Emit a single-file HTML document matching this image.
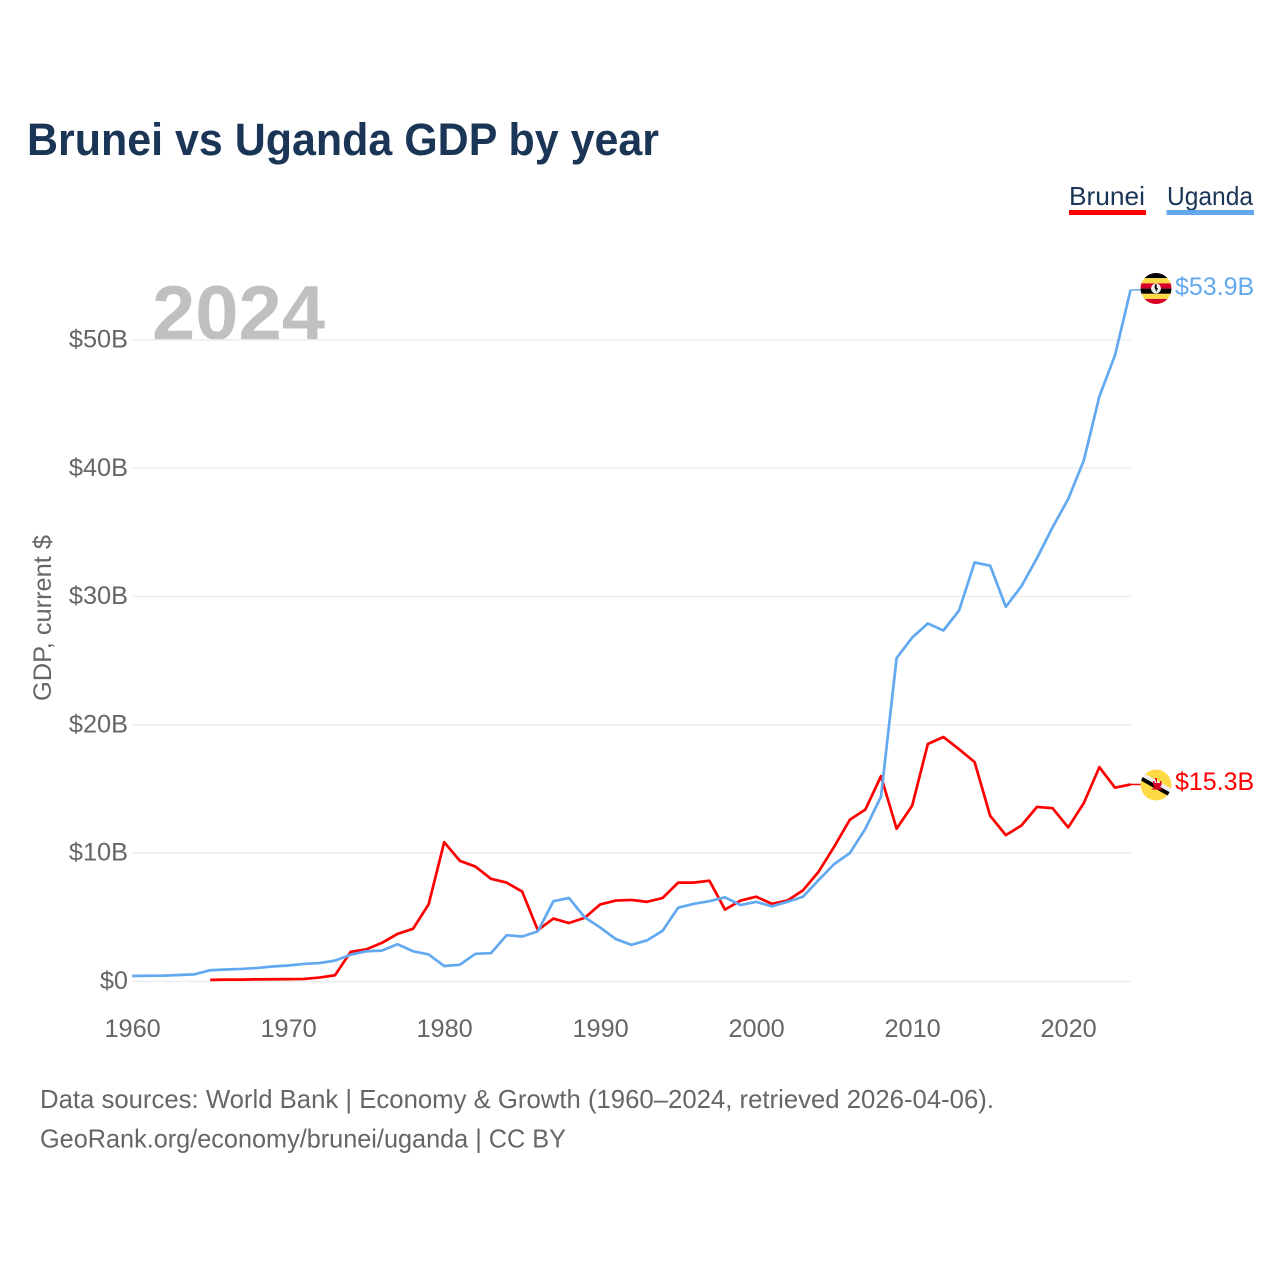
<!DOCTYPE html>
<html lang="en">
<head>
<meta charset="utf-8">
<title>Brunei vs Uganda GDP by year</title>
<style>
html,body{margin:0;padding:0;background:#fff;}
svg{display:block;font-family:"Liberation Sans",sans-serif;}
</style>
</head>
<body>
<svg id="chart" xmlns="http://www.w3.org/2000/svg" width="1280" height="1280" viewBox="0 0 1280 1280">
  <defs>
    <clipPath id="ug-clip"><circle cx="1156" cy="288.5" r="15.5"/></clipPath>
    <clipPath id="bn-clip"><circle cx="1156" cy="785" r="15.5"/></clipPath>
  </defs>
  <rect width="1280" height="1280" fill="#fff"/>
  <text x="27" y="155" font-size="45" font-weight="700" fill="#1a3555" textLength="632" lengthAdjust="spacingAndGlyphs">Brunei vs Uganda GDP by year</text>

  <g>
    <g>
      <text x="1069" y="205" font-size="26" fill="#1a3555" textLength="76" lengthAdjust="spacingAndGlyphs">Brunei</text>
      <rect x="1069" y="210" width="77" height="5" fill="#ff0000"/>
    </g>
    <g>
      <text x="1167" y="205" font-size="26" fill="#1a3555" textLength="86" lengthAdjust="spacingAndGlyphs">Uganda</text>
      <rect x="1166.500" y="210" width="87.500" height="5" fill="#62a9ef"/>
    </g>
  </g>

  <text x="152" y="339.500" font-size="77" font-weight="700" fill="#c0c0c0" textLength="173" lengthAdjust="spacingAndGlyphs">2024</text>

  <g id="grid"></g>
  <g id="yticks"></g>
  <g id="xticks"></g>
  <text transform="translate(51,618) rotate(-90)" text-anchor="middle" font-size="25" fill="#666" textLength="166" lengthAdjust="spacingAndGlyphs">GDP, current $</text>
  <g id="series"></g>

  <g clip-path="url(#ug-clip)">
    <rect x="1140" y="273" width="32" height="5.200" fill="#000"/>
    <rect x="1140" y="278.200" width="32" height="5.200" fill="#ffda44"/>
    <rect x="1140" y="283.400" width="32" height="5.200" fill="#d80027"/>
    <rect x="1140" y="288.600" width="32" height="5.200" fill="#000"/>
    <rect x="1140" y="293.800" width="32" height="5.200" fill="#ffda44"/>
    <rect x="1140" y="299" width="32" height="6" fill="#d80027"/>
    <circle cx="1156" cy="288.500" r="5" fill="#f0f0f0"/>
    <path d="M1155 284.500l2 0-.5 3 1.500 1-2 3.500-.5-3-1-1z" fill="#000"/>
  </g>
  <g clip-path="url(#bn-clip)">
    <circle cx="1156" cy="785" r="15.500" fill="#ffda44"/>
    <path d="M1140 771L1172 789L1172 794L1140 776Z" fill="#f0f0f0"/>
    <path d="M1140 775.500L1172 793.500L1172 798L1140 780Z" fill="#000"/>
    <path d="M1155 778h2v5h3v-2l1.500 0v4l-1.500 2 3 2.500h-11.500l3-2.500-1.500-2v-4l1.500 0v2h2z" fill="#d80027"/>
  </g>
  <text id="label-uganda" x="1175" y="295" font-size="25" fill="#62a9ef"></text>
  <text id="label-brunei" x="1175" y="790" font-size="25" fill="#ff0000"></text>

  <g>
    <text x="40" y="1108" font-size="26" fill="#666" textLength="954" lengthAdjust="spacingAndGlyphs">Data sources: World Bank | Economy &amp; Growth (1960–2024, retrieved 2026-04-06).</text>
    <text x="40" y="1147.500" font-size="26" fill="#666" textLength="526" lengthAdjust="spacingAndGlyphs">GeoRank.org/economy/brunei/uganda | CC BY</text>
  </g>
</svg>
<script>
const yTickValues = [0, 10, 20, 30, 40, 50];
const yTickLabels = ["$0", "$10B", "$20B", "$30B", "$40B", "$50B"];
const xTickYears = [1960, 1970, 1980, 1990, 2000, 2010, 2020];
const xTickLabels = ["1960", "1970", "1980", "1990", "2000", "2010", "2020"];
const ugandaStartYear = 1960;
const bruneiStartYear = 1965;
const ugandaValues = [0.42,0.44,0.45,0.5,0.55,0.87,0.93,0.97,1.05,1.16,1.24,1.36,1.43,1.62,2.08,2.35,2.4,2.9,2.35,2.1,1.2,1.3,2.15,2.2,3.6,3.5,3.9,6.25,6.5,5.0,4.2,3.3,2.85,3.2,3.95,5.75,6.05,6.25,6.55,5.95,6.2,5.85,6.2,6.6,7.9,9.15,10.0,11.9,14.4,25.2,26.8,27.9,27.35,28.9,32.65,32.4,29.2,30.8,33.0,35.4,37.6,40.6,45.6,48.8,53.9];
const bruneiValues = [0.12,0.14,0.14,0.16,0.17,0.18,0.19,0.3,0.48,2.3,2.5,3.0,3.7,4.1,6.0,10.85,9.4,8.95,8.0,7.7,7.0,4.0,4.9,4.55,4.95,6.0,6.3,6.35,6.2,6.5,7.7,7.7,7.85,5.6,6.3,6.6,6.05,6.3,7.1,8.55,10.5,12.6,13.4,16.0,11.9,13.7,18.5,19.05,18.1,17.1,12.9,11.4,12.15,13.6,13.5,12.0,13.9,16.7,15.1,15.35];
const ugandaLabel = "$53.9B";
const bruneiLabel = "$15.3B";

const NS = "http://www.w3.org/2000/svg";
const xScale = year => 132.2 + (year - 1960) * 15.6;
const yScale = value => 981.4 - value * 12.83;
const gridGroup = document.getElementById("grid");
const yGroup = document.getElementById("yticks");
const xGroup = document.getElementById("xticks");
const seriesGroup = document.getElementById("series");

yTickValues.forEach((value, i) => {
  const line = document.createElementNS(NS, "line");
  
  
  line.setAttribute("x1", xScale(1960));
  line.setAttribute("x2", xScale(2024));
  line.setAttribute("y1", yScale(value));
  line.setAttribute("y2", yScale(value));
  line.setAttribute("stroke", "#eeeeee");
  line.setAttribute("stroke-width", "1.6");
  gridGroup.appendChild(line);

  const label = document.createElementNS(NS, "text");
  
  
  label.setAttribute("x", 128);
  label.setAttribute("y", yScale(value) + 7.6);
  label.setAttribute("text-anchor", "end");
  label.setAttribute("font-size", "25.3");
  label.setAttribute("fill", "#666");
  label.textContent = yTickLabels[i];
  yGroup.appendChild(label);
});

xTickYears.forEach((year, i) => {
  const label = document.createElementNS(NS, "text");
  
  
  label.setAttribute("x", xScale(year) + 0.4);
  label.setAttribute("y", 1037);
  label.setAttribute("text-anchor", "middle");
  label.setAttribute("font-size", "25.3");
  label.setAttribute("fill", "#666");
  label.textContent = xTickLabels[i];
  xGroup.appendChild(label);
});

function drawSeries(values, startYear, color, name) {
  const pts = values.map((v, i) => xScale(startYear + i).toFixed(2) + "," + yScale(v).toFixed(2));
  const path = document.createElementNS(NS, "polyline");
  
  
  path.setAttribute("points", pts.join(" "));
  path.setAttribute("fill", "none");
  path.setAttribute("stroke", color);
  path.setAttribute("stroke-width", "2.7");
  path.setAttribute("stroke-linejoin", "round");
  seriesGroup.appendChild(path);

  const lastY = yScale(values[values.length - 1]);
  const leader = document.createElementNS(NS, "line");
  
  
  leader.setAttribute("x1", xScale(2024));
  leader.setAttribute("x2", xScale(2024) + 10);
  leader.setAttribute("y1", lastY);
  leader.setAttribute("y2", lastY);
  leader.setAttribute("stroke", color);
  leader.setAttribute("stroke-width", "1.5");
  seriesGroup.appendChild(leader);
}
drawSeries(bruneiValues, bruneiStartYear, "#ff0000", "brunei-line");
drawSeries(ugandaValues, ugandaStartYear, "#62a9ef", "uganda-line");
document.getElementById("label-uganda").textContent = ugandaLabel;
document.getElementById("label-brunei").textContent = bruneiLabel;
</script>
</body>
</html>
